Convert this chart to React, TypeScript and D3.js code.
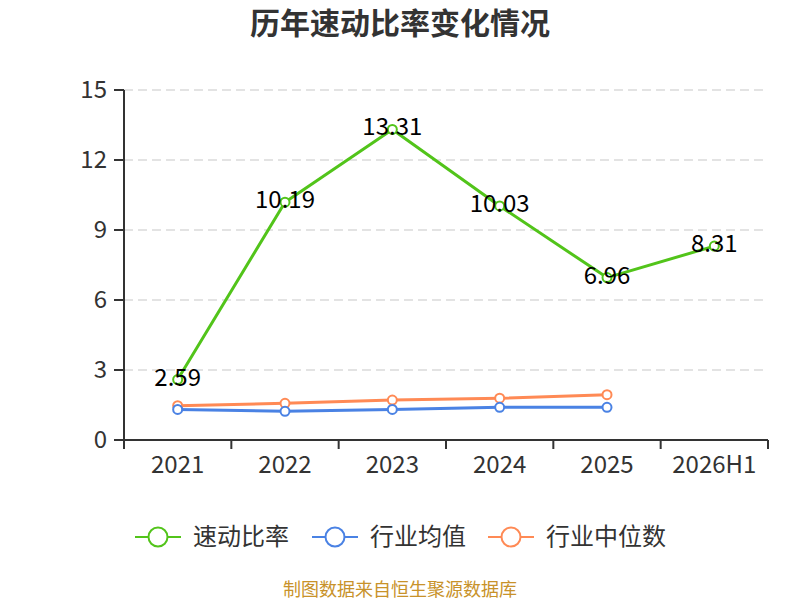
import * as d3 from 'd3';

const categories = ['2021', '2022', '2023', '2024', '2025', '2026H1'];
const quickRatio = [2.59, 10.19, 13.31, 10.03, 6.96, 8.31];
const industryMean = [1.31, 1.23, 1.31, 1.4, 1.4];
const industryMedian = [1.47, 1.57, 1.71, 1.79, 1.94];
const yTicks = [0, 3, 6, 9, 12, 15];

const series = [
  { name: '速动比率', values: quickRatio, color: '#52c41a' },
  { name: '行业均值', values: industryMean, color: '#4a82e4' },
  { name: '行业中位数', values: industryMedian, color: '#ff8a55' },
];

const font = '"Noto Sans CJK SC", "Noto Sans", sans-serif';

export default function App() {
  const width = 800;
  const height = 600;
  const margin = { top: 90, right: 32, bottom: 160, left: 124 };
  const innerW = width - margin.left - margin.right;
  const innerH = height - margin.top - margin.bottom;

  const x = d3.scaleBand<string>().domain(categories).range([0, innerW]);
  const y = d3.scaleLinear().domain([0, 15]).range([innerH, 0]);
  const cx = (i: number) => (x(categories[i]) as number) + x.bandwidth() / 2;

  const line = d3
    .line<number>()
    .x((_, i) => cx(i))
    .y((d) => y(d));

  // legend item start positions
  const legendX = [135, 312, 488];

  return (
    <svg
      width={width}
      height={height}
      style={{ position: 'absolute', left: 0, top: 0, display: 'block' }}
    >
      <rect width={width} height={height} fill="#fff" />
      <text
        x={width / 2}
        y={34}
        textAnchor="middle"
        fontFamily={font}
        fontSize={30}
        fontWeight="bold"
        fill="#333"
      >
        历年速动比率变化情况
      </text>

      <g transform={`translate(${margin.left},${margin.top})`}>
        {/* grid lines */}
        {yTicks.map((t) =>
          t === 0 ? null : (
            <line
              key={t}
              x1={0}
              x2={innerW}
              y1={y(t)}
              y2={y(t)}
              stroke="#c8c8c8"
              strokeDasharray="9,5"
              strokeWidth={1.2}
            />
          )
        )}

        {/* y axis */}
        <line x1={0} x2={0} y1={0} y2={innerH} stroke="#333" strokeWidth={2} />
        {yTicks.map((t) => (
          <g key={t} transform={`translate(0,${y(t)})`}>
            <line x1={-10} x2={0} stroke="#333" strokeWidth={2} />
            <text
              x={-17}
              dy="0.35em"
              textAnchor="end"
              fontFamily={font}
              fontSize={24}
              fill="#333"
            >
              {t}
            </text>
          </g>
        ))}

        {/* x axis */}
        <line x1={0} x2={innerW} y1={innerH} y2={innerH} stroke="#333" strokeWidth={2} />
        {categories.map((c, i) => (
          <g key={c}>
            <line
              x1={x(c) as number}
              x2={x(c) as number}
              y1={innerH}
              y2={innerH + 9}
              stroke="#333"
              strokeWidth={2}
            />
            <text
              x={cx(i)}
              y={innerH + 33}
              textAnchor="middle"
              fontFamily={font}
              fontSize={24}
              fill="#333"
            >
              {c}
            </text>
          </g>
        ))}
        <line x1={innerW} x2={innerW} y1={innerH} y2={innerH + 9} stroke="#333" strokeWidth={2} />

        {/* series, drawn bottom to top */}
        {[...series].reverse().map((s) => (
          <g key={s.name}>
            <path
              d={line(s.values) || ''}
              fill="none"
              stroke={s.color}
              strokeWidth={3}
              strokeLinejoin="round"
            />
            {s.values.map((v, i) => (
              <circle
                key={i}
                cx={cx(i)}
                cy={y(v)}
                r={4.5}
                fill="#fff"
                stroke={s.color}
                strokeWidth={2}
              />
            ))}
          </g>
        ))}

        {/* data labels */}
        {quickRatio.map((v, i) => (
          <text
            key={i}
            x={cx(i)}
            y={y(v) + 6}
            textAnchor="middle"
            fontFamily={font}
            fontSize={24}
            fill="#000"
          >
            {v.toFixed(2)}
          </text>
        ))}
      </g>

      {/* legend */}
      {series.map((s, i) => (
        <g key={s.name} transform={`translate(${legendX[i]},537)`}>
          <line x1={0} x2={46} y1={0} y2={0} stroke={s.color} strokeWidth={2} />
          <circle cx={23} cy={0} r={9.5} fill="#fff" stroke={s.color} strokeWidth={2} />
          <text
            x={58}
            dy="0.35em"
            fontFamily={font}
            fontSize={24}
            fill="#333"
          >
            {s.name}
          </text>
        </g>
      ))}

      <text
        x={width / 2}
        y={596}
        textAnchor="middle"
        fontFamily={font}
        fontSize={18}
        fill="#c8922a"
      >
        制图数据来自恒生聚源数据库
      </text>
    </svg>
  );
}
